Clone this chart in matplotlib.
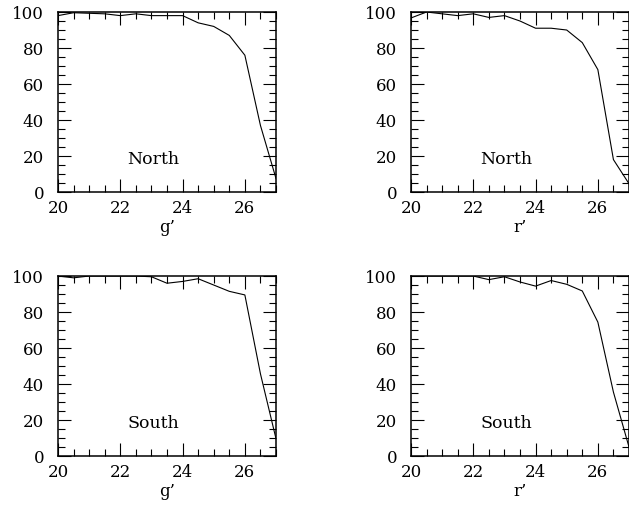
import numpy as np
import matplotlib
matplotlib.use("Agg")
import matplotlib.pyplot as plt
from matplotlib.ticker import MultipleLocator

# --- dados ---
mag = [20.0, 20.5, 21.0, 21.5, 22.0, 22.5, 23.0, 23.5, 24.0, 24.5, 25.0, 25.5, 26.0, 26.5, 27.0]

g_north = [98, 99.6, 99.3, 99, 98, 99, 98, 98, 98, 94, 92, 87, 76, 37, 7.5]
r_north = [96.7, 100, 99, 98, 99, 97, 98, 95, 91, 91, 90, 83, 68, 18, 4.6]
g_south = [100, 99, 100, 100, 100, 100, 99.6, 96, 97, 98.5, 95, 91.5, 89.5, 45.7, 9.6]
r_south = [100, 100, 100, 100, 100, 98, 99.6, 96.7, 94.4, 97.5, 95.4, 91.7, 74.4, 35.5, 5]

panels = [
    (g_north, "g\u2019", "North"),
    (r_north, "r\u2019", "North"),
    (g_south, "g\u2019", "South"),
    (r_south, "r\u2019", "South"),
]

plt.rcParams['font.family'] = ['DejaVu Serif']
plt.rcParams['font.size'] = 12

fig = plt.figure(figsize=(6.29, 5.05), dpi=100)

# posicoes dos eixos (fração da figura)
lefts = [0.0922, 0.6534]
bottoms = [0.6198, 0.097]
w, h = 0.3466, 0.3564

for i, (vals, xlab, region) in enumerate(panels):
    row, col = divmod(i, 2)
    ax = fig.add_axes([lefts[col], bottoms[row], w, h])
    ax.plot(mag, vals, color='black', lw=0.8)
    ax.set_xlim(20, 27)
    ax.set_ylim(0, 100)
    ax.xaxis.set_major_locator(MultipleLocator(2))
    ax.xaxis.set_minor_locator(MultipleLocator(0.5))
    ax.yaxis.set_major_locator(MultipleLocator(20))
    ax.yaxis.set_minor_locator(MultipleLocator(5))
    ax.tick_params(which='both', direction='in', top=True, right=True, width=0.8)
    ax.tick_params(which='major', length=9.5)
    ax.tick_params(which='minor', length=5)
    ax.tick_params(axis='x', which='major', pad=5.5)
    ax.tick_params(axis='y', which='major', pad=10)
    for sp in ax.spines.values():
        sp.set_linewidth(1.1)
    ax.set_xlabel(xlab, labelpad=2)
    ax.text(23.05, 18, region, ha='center', va='center', fontsize=12.5)

fig.savefig("out.png", dpi=100)
